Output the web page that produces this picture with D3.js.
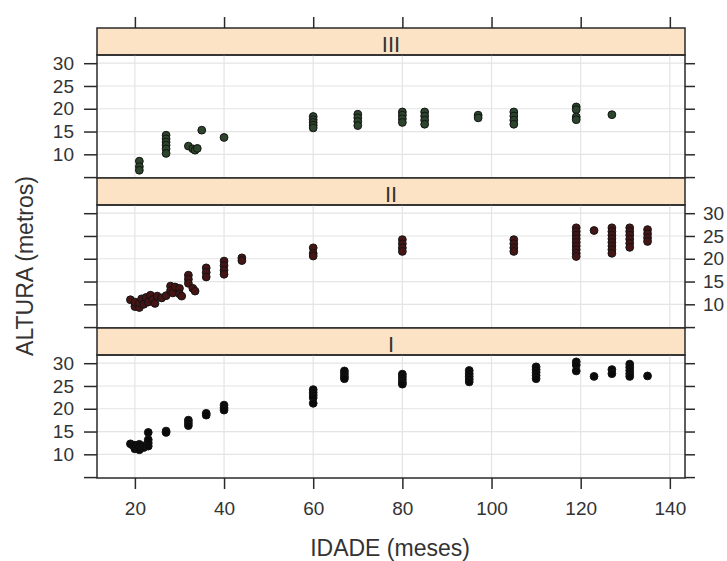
<!DOCTYPE html>
<html>
<head>
<meta charset="utf-8">
<script src="https://cdn.jsdelivr.net/npm/d3@7"></script>
<style>
  body { margin: 0; background: #fff; }
  text { font-family: "Liberation Sans", Arial, sans-serif; fill: #333; }
</style>
</head>
<body>
<svg id="chart" width="727" height="561"></svg>
<script>
// one array of [IDADE, ALTURA] per panel
const pontosIII = [
  [21, 8.5], [21, 7.3], [21, 6.5],
  [27, 14.2], [27, 13.4], [27, 12.7], [27, 12], [27, 11.2], [27, 10.2],
  [32, 11.8], [33, 11.2], [33.5, 10.9], [34, 11.3],
  [35, 15.3], [40, 13.7],
  [60, 18.3], [60, 17.6], [60, 17], [60, 16.4], [60, 15.8],
  [70, 18.8], [70, 18], [70, 17.2], [70, 16.3],
  [80, 19.3], [80, 18.6], [80, 17.8], [80, 17],
  [85, 19.3], [85, 18.4], [85, 17.5], [85, 16.6],
  [97, 18.6], [97, 18],
  [105, 19.3], [105, 18.4], [105, 17.5], [105, 16.6],
  [119, 20.4], [119, 19.8], [119, 18.2], [119, 17.6],
  [127, 18.7]
]
const pontosII = [
  [19, 11], [20, 9.5], [20, 10.5], [21, 9.3], [21, 10.3], [21.5, 11.2],
  [22, 10], [22.5, 11.5], [23, 10.5], [23.5, 12], [24, 11], [24.5, 10.2],
  [25, 11.8], [26, 11.4], [27, 11.9],
  [28, 14], [28, 13], [28.5, 12.5], [29, 13.8], [30, 13.5], [30, 12.3], [30.5, 11.8],
  [32, 16.4], [32, 15.5], [32, 14.6], [33, 13.5], [33.5, 12.9],
  [36, 18], [36, 17], [36, 16],
  [40, 19.5], [40, 18.5], [40, 17.5], [40, 16.6],
  [44, 20.2], [44, 19.6],
  [60, 22.4], [60, 21.2], [60, 20.6],
  [80, 24.2], [80, 23.3], [80, 22.4], [80, 21.6],
  [105, 24.2], [105, 23.3], [105, 22.4], [105, 21.6],
  [119, 26.8], [119, 26], [119, 25.2], [119, 24.4], [119, 23.6], [119, 22.8],
  [119, 22], [119, 21.2], [119, 20.5],
  [123, 26.2],
  [127, 26.8], [127, 26], [127, 25.2], [127, 24.4], [127, 23.6], [127, 22.8],
  [127, 22], [127, 21.2],
  [131, 26.8], [131, 26], [131, 25.2], [131, 24.3], [131, 23.4], [131, 22.5],
  [135, 26.4], [135, 25.5], [135, 24.6], [135, 23.8]
]
const pontosI = [
  [19, 12.3], [19.5, 12], [20, 11.2], [20, 12], [20.5, 11.5], [21, 12.2],
  [21, 11], [21.5, 11.8], [22, 11.5], [22.5, 12], [23, 11.8], [23, 12.5],
  [23, 13.2], [23, 14.8],
  [27, 15.1], [27, 14.8],
  [32, 17.5], [32, 16.9], [32, 16.3],
  [36, 19], [36, 18.6],
  [40, 20.8], [40, 20.2], [40, 19.7],
  [60, 24.2], [60, 23.6], [60, 23], [60, 22.4], [60, 21.2],
  [67, 28.3], [67, 27.7], [67, 27.1], [67, 26.6],
  [80, 27.6], [80, 27], [80, 26.4], [80, 25.8], [80, 25.4],
  [95, 28.4], [95, 27.7], [95, 27.1], [95, 26.5], [95, 25.9],
  [110, 29.2], [110, 28.6], [110, 28], [110, 27.3], [110, 26.6],
  [119, 30.3], [119, 29.6], [119, 28.3],
  [123, 27.1],
  [127, 28.6], [127, 27.7],
  [131, 29.8], [131, 29.1], [131, 28.4], [131, 27.7], [131, 27.1],
  [135, 27.2]
]

const painelNomes = ['III', 'II', 'I']
const painelPontos = [pontosIII, pontosII, pontosI]
const painelCores = ['#2c452c', '#451414', '#0a0a0a']
const xTicks = [20, 40, 60, 80, 100, 120, 140]
const yTicks = [5, 10, 15, 20, 25, 30]
const yLabels = [10, 15, 20, 25, 30]

const svg = d3.select('#chart')
const marginLeft = 97, marginRight = 685, marginTop = 28
const stripH = 27, panelH = 123

const x = d3.scaleLinear().domain([11.5, 143.4]).range([marginLeft, marginRight])

painelNomes.forEach((nome, i) => {
  const y0 = marginTop + i * (stripH + panelH)
  const py = y0 + stripH
  const y = d3.scaleLinear().domain([4.8, 31.8]).range([py + panelH, py])
  const g = svg.append('g')

  // strip
  g.append('rect')
    .attr('x', marginLeft).attr('y', y0).attr('width', marginRight - marginLeft).attr('height', stripH)
    .attr('fill', '#fde3c6').attr('stroke', '#2a2a2a').attr('stroke-width', 1.5)
  g.append('text')
    .attr('x', (marginLeft + marginRight) / 2).attr('y', y0 + 24)
    .attr('text-anchor', 'middle').attr('font-size', 22)
    .text(nome)

  // grid
  g.append('g').selectAll('line').data(xTicks).join('line')
    .attr('x1', d => x(d)).attr('x2', d => x(d))
    .attr('y1', py).attr('y2', py + panelH)
    .attr('stroke', '#e4e4e4').attr('stroke-width', 1.2)
  g.append('g').selectAll('line').data(yLabels).join('line')
    .attr('x1', marginLeft).attr('x2', marginRight)
    .attr('y1', d => y(d)).attr('y2', d => y(d))
    .attr('stroke', '#e4e4e4').attr('stroke-width', 1.2)

  // points
  g.append('g').selectAll('circle').data(painelPontos[i]).join('circle')
    .attr('cx', d => x(d[0])).attr('cy', d => y(d[1])).attr('r', 3.9)
    .attr('fill', painelCores[i])
    .attr('stroke', '#141414').attr('stroke-width', 1)

  g.append('rect')
    .attr('x', marginLeft).attr('y', py).attr('width', marginRight - marginLeft).attr('height', panelH)
    .attr('fill', 'none').attr('stroke', '#2a2a2a').attr('stroke-width', 1.5)

  // y axes alternate sides, labels only on one side
  const labelsLeft = i !== 1
  const axL = d3.axisLeft(y).tickValues(yTicks).tickSize(13).tickPadding(10)
    .tickFormat(d => (labelsLeft && d >= 10) ? d : '')
  const axR = d3.axisRight(y).tickValues(yTicks).tickSize(10).tickPadding(8)
    .tickFormat(d => (!labelsLeft && d >= 10) ? d : '')
  for (const [ax, xpos] of [[axL, marginLeft], [axR, marginRight]]) {
    const a = g.append('g').attr('transform', `translate(${xpos},0)`).call(ax)
    a.select('.domain').remove()
    a.selectAll('line').attr('stroke', '#2a2a2a').attr('stroke-width', 1.5)
    a.selectAll('text').attr('font-size', 19).attr('font-family', null).attr('fill', '#333')
  }
})

// x axes: top ticks only, bottom ticks + labels
const marginBottom = marginTop + 3 * (stripH + panelH)
const axTop = svg.append('g').attr('transform', `translate(0,${marginTop})`)
  .call(d3.axisTop(x).tickValues(xTicks).tickSize(11).tickFormat(''))
const axBot = svg.append('g').attr('transform', `translate(0,${marginBottom})`)
  .call(d3.axisBottom(x).tickValues(xTicks).tickSize(11).tickPadding(13))
for (const a of [axTop, axBot]) {
  a.select('.domain').remove()
  a.selectAll('line').attr('stroke', '#2a2a2a').attr('stroke-width', 1.5)
  a.selectAll('text').attr('font-size', 19).attr('font-family', null).attr('fill', '#333')
}

svg.append('text')
  .attr('x', (marginLeft + marginRight) / 2 - 1).attr('y', 556)
  .attr('text-anchor', 'middle').attr('font-size', 23)
  .text('IDADE (meses)')
svg.append('text')
  .attr('transform', `translate(33,266) rotate(-90)`)
  .attr('text-anchor', 'middle').attr('font-size', 23)
  .text('ALTURA (metros)')
</script>
</body>
</html>
